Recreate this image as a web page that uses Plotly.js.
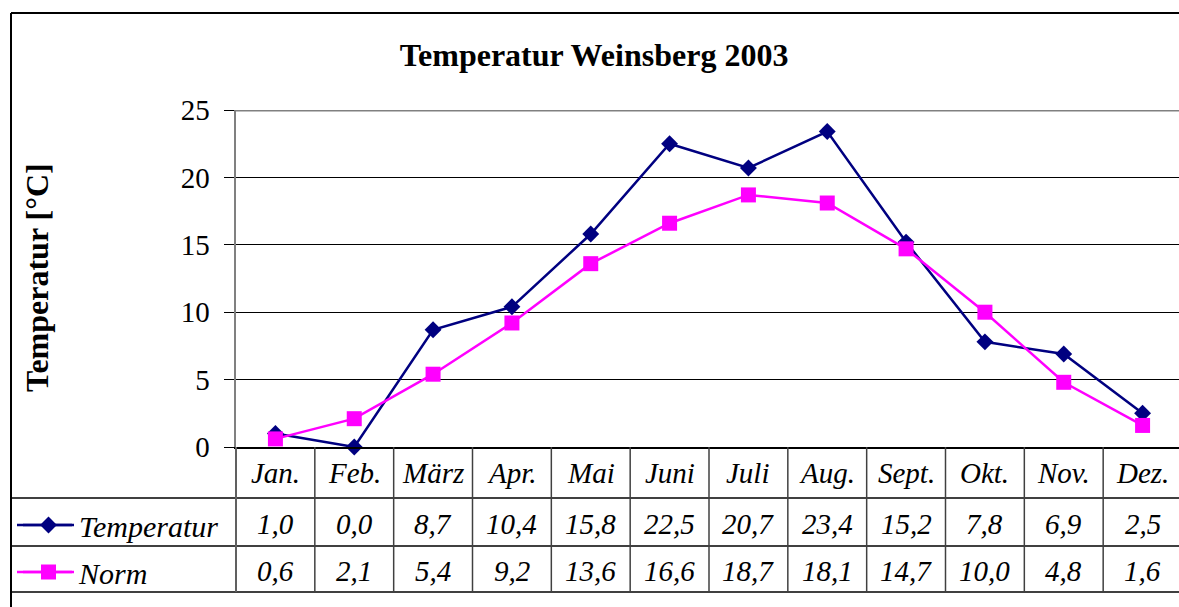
<!DOCTYPE html>
<html>
<head>
<meta charset="utf-8">
<script src="https://cdn.plot.ly/plotly-3.0.1.min.js"></script>
<style>
html,body{margin:0;padding:0;overflow:hidden;background:#fff;}
#chart{width:1190px;height:607px;}
</style>
</head>
<body>
<div id="chart"></div>
<script>
const months = ['Jan.','Feb.','März','Apr.','Mai','Juni','Juli','Aug.','Sept.','Okt.','Nov.','Dez.'];
const temperatur = [1.0, 0.0, 8.7, 10.4, 15.8, 22.5, 20.7, 23.4, 15.2, 7.8, 6.9, 2.5];
const norm = [0.6, 2.1, 5.4, 9.2, 13.6, 16.6, 18.7, 18.1, 14.7, 10.0, 4.8, 1.6];
const yTicks = [0, 5, 10, 15, 20, 25];

const W = 1190, H = 607;
const FONT = 'Liberation Serif';
const px = v => v / W;
const py = v => 1 - v / H;
const fmt = v => v.toFixed(1).replace('.', ',');

const traces = [
  {x: months, y: temperatur, name: 'Temperatur', type: 'scatter', mode: 'lines+markers',
   line: {color: '#000080', width: 2.5}, marker: {symbol: 'diamond', size: 13, color: '#000080'},
   cliponaxis: false, legend: 'legend'},
  {x: months, y: norm, name: 'Norm', type: 'scatter', mode: 'lines+markers',
   line: {color: '#FF00FF', width: 2.5}, marker: {symbol: 'square', size: 15, color: '#FF00FF'},
   cliponaxis: false, legend: 'legend2'}
];

const shapes = [];
const annotations = [];
// outer frame
shapes.push({type:'line', xref:'paper', yref:'paper', x0:px(11), x1:px(11), y0:py(13), y1:py(620), line:{color:'#000', width:2}});
shapes.push({type:'line', xref:'paper', yref:'paper', x0:px(11), x1:px(1200), y0:py(13), y1:py(13), line:{color:'#000', width:2}});
// plot top border
shapes.push({type:'line', xref:'paper', yref:'y', x0:px(236), x1:px(1200), y0:25, y1:25, line:{color:'#808080', width:3}});
// table horizontal lines
[498, 546, 592].forEach(yy => shapes.push({type:'line', xref:'paper', yref:'paper', x0:px(11), x1:px(1200), y0:py(yy), y1:py(yy), line:{color:'#000', width:1.5}}));
// table vertical lines
shapes.push({type:'line', xref:'paper', yref:'paper', x0:px(236), x1:px(236), y0:py(447), y1:py(592), line:{color:'#606060', width:2}});
for (let k = 1; k < months.length; k++) {
  shapes.push({type:'line', xref:'x', yref:'paper', x0:k-0.5, x1:k-0.5, y0:py(447), y1:py(592), line:{color:'#404040', width:1.5}});
}
// legend key lines
shapes.push({type:'line', xref:'paper', yref:'paper', x0:px(17), x1:px(72), y0:py(525), y1:py(525), line:{color:'#000080', width:2.5}});
shapes.push({type:'line', xref:'paper', yref:'paper', x0:px(17), x1:px(72), y0:py(572), y1:py(572), line:{color:'#FF00FF', width:2.5}});
// table text
const cellFont = {family:FONT, size:29, color:'#000', style:'italic'};
months.forEach((m, i) => {
  annotations.push({x: m, xref:'x', yref:'paper', y: py(473), yanchor:'middle', xanchor:'center', text: m, showarrow:false, font:cellFont});
  annotations.push({x: m, xref:'x', yref:'paper', y: py(524), yanchor:'middle', xanchor:'center', text: fmt(temperatur[i]), showarrow:false, font:cellFont});
  annotations.push({x: m, xref:'x', yref:'paper', y: py(571), yanchor:'middle', xanchor:'center', text: fmt(norm[i]), showarrow:false, font:cellFont});
});
// y axis title
annotations.push({xref:'paper', yref:'paper', x: px(37), y: py(278), xanchor:'center', yanchor:'middle', text:'Temperatur [°C]', textangle:-90, showarrow:false, font:{family:FONT, size:32, color:'#000', weight:'bold'}});

const legendBase = {xanchor:'left', yanchor:'middle', bgcolor:'rgba(0,0,0,0)', borderwidth:0,
  font:{family:FONT, size:30, color:'#000', style:'italic'}, itemwidth:51};

const layout = {
  width: W, height: H,
  margin: {l:0, r:0, t:0, b:0},
  font: {family: FONT, color:'#000'},
  paper_bgcolor:'#fff', plot_bgcolor:'#fff',
  title: {text:'Temperatur Weinsberg 2003', x: 594/W, xref:'paper', y: py(55), yref:'paper', xanchor:'center', yanchor:'middle', font:{family:FONT, size:32, color:'#000', weight:'bold'}},
  xaxis: {domain:[px(236), px(1182)], range:[-0.5, 11.5], type:'category', showticklabels:false, ticks:'', showgrid:false, zeroline:false, showline:true, linecolor:'#000', linewidth:2, fixedrange:true},
  yaxis: {domain:[py(447), py(110)], range:[0, 25], tickvals: yTicks, ticks:'outside', ticklen:10, tickcolor:'#000', tickwidth:1,
          showgrid:true, gridcolor:'#000', gridwidth:1, zeroline:false, showline:true, linecolor:'#808080', linewidth:2.5,
          tickfont:{family:FONT, size:29, color:'#000'}, ticklabelstandoff:8, fixedrange:true},
  showlegend: true,
  legend: Object.assign({}, legendBase, {x: px(18), y: py(525)}),
  legend2: Object.assign({}, legendBase, {x: px(18), y: py(572)}),
  shapes: shapes,
  annotations: annotations
};

Plotly.newPlot('chart', traces, layout, {displayModeBar:false, staticPlot:true});
</script>
</body>
</html>
